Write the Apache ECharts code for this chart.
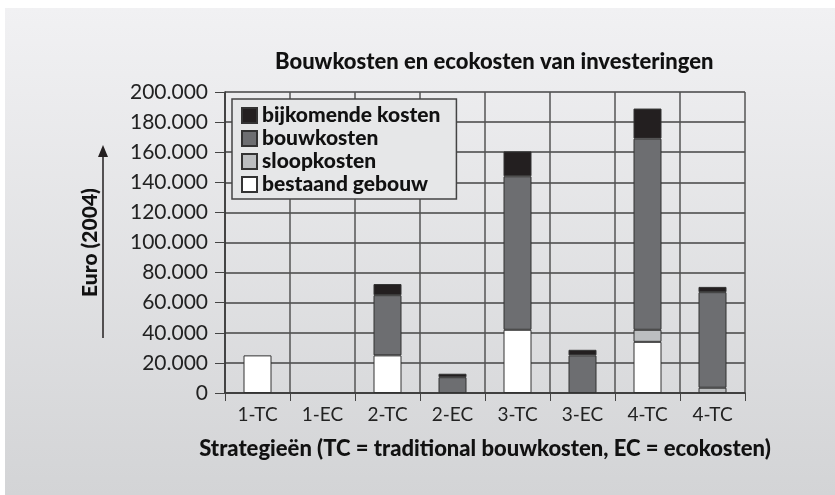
<!DOCTYPE html>
<html>
<head>
<meta charset="utf-8">
<script src="https://cdn.jsdelivr.net/npm/echarts@6/dist/echarts.min.js"></script>
<style>
  html, body { margin: 0; padding: 0; background: #fff; }
  #chart { width: 835px; height: 495px; }
</style>
</head>
<body>
<div id="chart"></div>
<script>
// strategieën en kosten (euro, 2004)
var categories = ['1-TC', '1-EC', '2-TC', '2-EC', '3-TC', '3-EC', '4-TC', '4-TC'];
var bestaandGebouw = [25000, 0, 25000, 0, 42000, 0, 34000, 0];
var sloopkosten = [0, 0, 0, 0, 0, 0, 8000, 3500];
var bouwkosten = [0, 0, 40000, 10500, 102000, 25000, 127000, 63500];
var bijkomendeKosten = [0, 0, 7400, 2300, 16500, 3700, 20000, 3500];
var yTicks = [0, 20000, 40000, 60000, 80000, 100000, 120000, 140000, 160000, 180000, 200000];

var font = 'Lato, "Open Sans", sans-serif';

function render_chart(id) {
  var chartDom = document.getElementById(id);
  var myChart = echarts.init(chartDom);

  // nul = geen balk
  function clean(arr) {
    return arr.map(function (v) { return v ? v : null; });
  }

  function makeSeries(name, data, color) {
    return {
      name: name,
      type: 'bar',
      stack: 'totaal',
      barWidth: 28,
      data: clean(data),
      itemStyle: {
        color: color,
        borderColor: '#333',
        borderWidth: 1
      }
    };
  }

  var option = {
    backgroundColor: '#ffffff',
    animation: false,
    textStyle: { fontFamily: font },
    graphic: [
      {
        type: 'rect',
        z: -10,
        shape: { x: 5, y: 8, width: 830, height: 487 },
        style: {
          fill: new echarts.graphic.LinearGradient(0, 0, 0, 1, [
            { offset: 0, color: '#f1f1f3' },
            { offset: 1, color: '#d3d4d6' }
          ])
        }
      },
      {
        type: 'line',
        shape: { x1: 103, y1: 338, x2: 103, y2: 155 },
        style: { stroke: '#231f20', lineWidth: 1.5 }
      },
      {
        type: 'polygon',
        shape: { points: [[98, 157], [108, 157], [103, 145]] },
        style: { fill: '#231f20' }
      }
    ],
    title: {
      text: 'Bouwkosten en ecokosten van investeringen',
      left: 270,
      top: 46,
      textStyle: {
        fontFamily: font,
        fontSize: 22,
        fontWeight: 900,
        color: '#111'
      }
    },
    legend: {
      orient: 'vertical',
      left: 232,
      top: 99,
      padding: [6, 16, 4, 9],
      itemGap: 2,
      itemWidth: 15,
      itemHeight: 15,
      backgroundColor: '#e6e7e8',
      borderColor: '#444',
      borderWidth: 1.5,
      borderRadius: 0,
      icon: 'rect',
      data: ['bijkomende kosten', 'bouwkosten', 'sloopkosten', 'bestaand gebouw'],
      textStyle: {
        fontFamily: font,
        fontSize: 21,
        fontWeight: 900,
        color: '#111'
      }
    },
    grid: {
      left: 225,
      right: 90,
      top: 92,
      bottom: 102
    },
    xAxis: {
      type: 'category',
      data: categories,
      name: 'Strategieën (TC = traditional bouwkosten, EC = ecokosten)',
      nameLocation: 'middle',
      nameGap: 45,
      nameTextStyle: {
        fontFamily: font,
        fontSize: 22,
        fontWeight: 900,
        color: '#111'
      },
      axisLine: { lineStyle: { color: '#333', width: 1.5 } },
      axisTick: { show: true, length: 8, lineStyle: { color: '#444' } },
      axisLabel: { fontSize: 19, color: '#222', margin: 12 },
      splitLine: { show: true, lineStyle: { color: '#555', width: 1.5 } }
    },
    yAxis: {
      type: 'value',
      min: yTicks[0],
      max: yTicks[yTicks.length - 1],
      interval: yTicks[1] - yTicks[0],
      name: 'Euro (2004)',
      nameLocation: 'middle',
      nameGap: 124,
      nameTextStyle: {
        fontFamily: font,
        fontSize: 21,
        fontWeight: 900,
        color: '#111'
      },
      axisLine: { show: true, lineStyle: { color: '#333', width: 1.5 } },
      axisTick: { show: true, length: 10, lineStyle: { color: '#444' } },
      axisLabel: {
        fontSize: 21,
        color: '#222',
        margin: 17,
        formatter: function (v) {
          return v === 0 ? '0' : (v / 1000) + '.000';
        }
      },
      splitLine: { show: true, lineStyle: { color: '#444', width: 1.5 } }
    },
    series: [
      makeSeries('bestaand gebouw', bestaandGebouw, '#ffffff'),
      makeSeries('sloopkosten', sloopkosten, '#bcbec0'),
      makeSeries('bouwkosten', bouwkosten, '#6d6e71'),
      makeSeries('bijkomende kosten', bijkomendeKosten, '#231f20')
    ]
  };

  option && myChart.setOption(option);
}

render_chart('chart');
</script>
</body>
</html>
